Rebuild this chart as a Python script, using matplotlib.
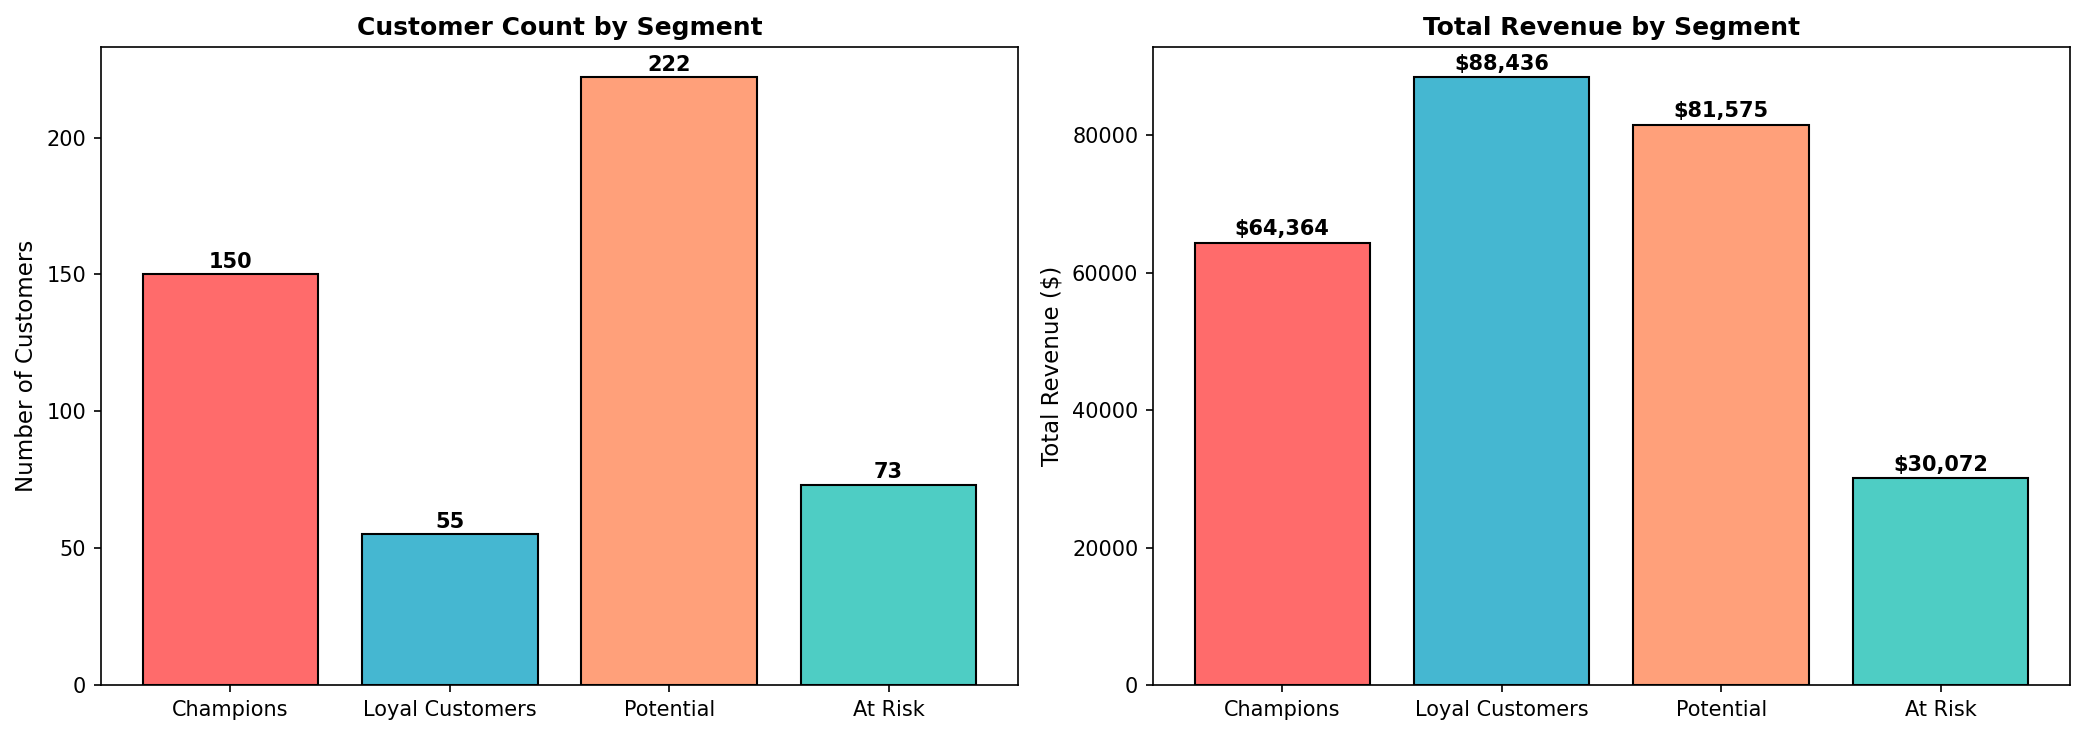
import matplotlib

matplotlib.use("Agg")
import matplotlib.pyplot as plt

segments = ["Champions", "Loyal Customers", "Potential", "At Risk"]
customer_counts = [150, 55, 222, 73]
total_revenue = [64364, 88436, 81575, 30072]
colors = ["#FF6B6B", "#45B7D1", "#FFA07A", "#4ECDC4"]


def main() -> None:
    fig, (ax1, ax2) = plt.subplots(1, 2, figsize=(13.9, 4.9), dpi=150)
    fig.subplots_adjust(left=0.0484, right=0.9928, bottom=0.068, top=0.936, wspace=0.147)

    bars = ax1.bar(segments, customer_counts, color=colors, edgecolor="black")
    for bar, value in zip(bars, customer_counts):
        ax1.text(bar.get_x() + bar.get_width() / 2, bar.get_height() + 1,
                 f"{value}", ha="center", va="bottom", fontweight="bold", fontsize=10)
    ax1.set_title("Customer Count by Segment", fontweight="bold", fontsize=12)
    ax1.set_ylabel("Number of Customers", fontsize=11)

    bars = ax2.bar(segments, total_revenue, color=colors, edgecolor="black")
    for bar, value in zip(bars, total_revenue):
        ax2.text(bar.get_x() + bar.get_width() / 2, bar.get_height() + 500,
                 f"${value:,}", ha="center", va="bottom", fontweight="bold", fontsize=10)
    ax2.set_title("Total Revenue by Segment", fontweight="bold", fontsize=12)
    ax2.set_ylabel("Total Revenue ($)", fontsize=11)

    fig.savefig("out.png", dpi=150)


if __name__ == "__main__":
    main()
